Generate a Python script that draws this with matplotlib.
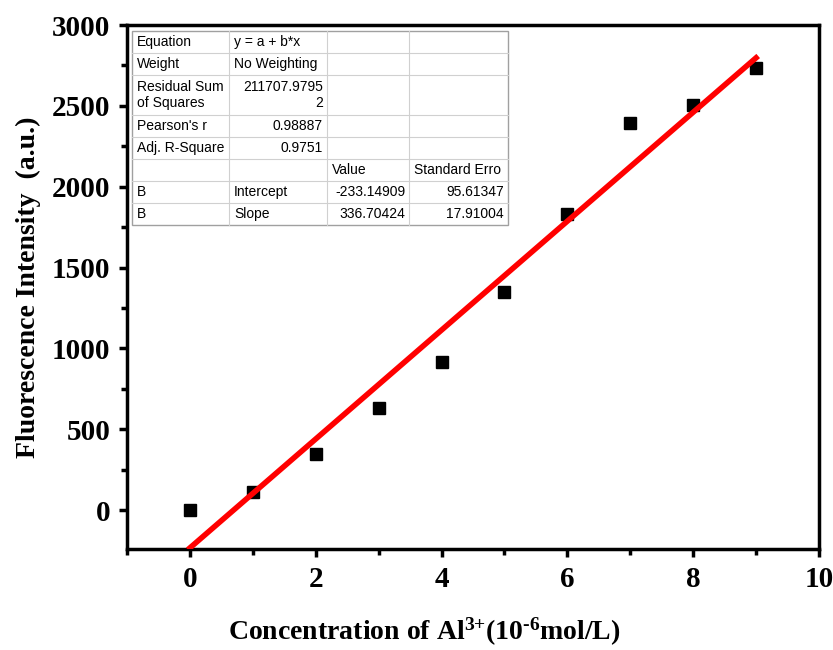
import numpy as np
import matplotlib
matplotlib.use("Agg")
from matplotlib import pyplot as plt
from matplotlib.ticker import MultipleLocator
from matplotlib.patches import Rectangle
from matplotlib.lines import Line2D

# duomenys
koncentracija = [0, 1, 2, 3, 4, 5, 6, 7, 8, 9]
intensyvumas = [0, 111, 346, 631, 915, 1348, 1830, 2393, 2505, 2734]
intercept = -233.14909
slope = 336.70424

lentele = [
    ["Equation", "y = a + b*x", "", ""],
    ["Weight", "No Weighting", "", ""],
    ["Residual Sum\nof Squares", "211707.9795\n2", "", ""],
    ["Pearson's r", "0.98887", "", ""],
    ["Adj. R-Square", "0.9751", "", ""],
    ["", "", "Value", "Standard Erro"],
    ["B", "Intercept", "-233.14909", "95.61347"],
    ["B", "Slope", "336.70424", "17.91004"],
]

plt.rcParams['mathtext.fontset'] = 'custom'
plt.rcParams['mathtext.rm'] = 'Liberation Serif:bold'
plt.rcParams['mathtext.bf'] = 'Liberation Serif:bold'
plt.rcParams['mathtext.default'] = 'bf'

W, H = 833, 650
fig = plt.figure(figsize=(W / 100, H / 100), dpi=100)
ax = fig.add_axes([127 / W, 1 - 549 / H, (819 - 127) / W, (549 - 25) / H])

ax.plot(koncentracija, intensyvumas, 's', color='black', markersize=8, zorder=3)
xf = np.array([koncentracija[0], koncentracija[-1]])
ax.plot(xf, intercept + slope * xf, color='red', linewidth=4, zorder=4)

ax.set_xlim(-1, 10)
ax.set_ylim(-240, 3000)
ax.xaxis.set_major_locator(MultipleLocator(2))
ax.xaxis.set_minor_locator(MultipleLocator(1))
ax.yaxis.set_major_locator(MultipleLocator(500))
ax.yaxis.set_minor_locator(MultipleLocator(250))
for s in ax.spines.values():
    s.set_linewidth(2.5)
ax.tick_params(which='major', direction='out', length=6, width=2.5, pad=6)
ax.tick_params(which='minor', direction='out', length=4, width=2.5)
for lab in ax.get_xticklabels() + ax.get_yticklabels():
    lab.set_fontfamily('Liberation Serif')
    lab.set_fontweight('bold')
    lab.set_fontsize(21)

ax.set_xlabel(r'Concentration of Al$^{3{+}}$(10$^{\text{-6}}$mol/L)', fontsize=20,
              fontfamily='Liberation Serif', fontweight='bold')
ax.xaxis.set_label_coords(0.43, -0.128)
ax.set_ylabel('Fluorescence Intensity  (a.u.)', fontsize=20,
              fontfamily='Liberation Serif', fontweight='bold', labelpad=8)

# lentele (pikseliais)
stulp = [132, 229, 327, 409, 508]
eil = [31, 53, 75, 115, 137, 159, 181, 203, 225]

def fx(px):
    return px / W

def fy(py):
    return 1 - py / H

fig.add_artist(Rectangle((fx(stulp[0]), fy(eil[-1])), fx(stulp[-1]) - fx(stulp[0]),
                         fy(eil[0]) - fy(eil[-1]), transform=fig.transFigure,
                         facecolor='white', edgecolor='#a0a0a0', linewidth=1, zorder=5))
for y in eil[1:-1]:
    fig.add_artist(Line2D([fx(stulp[0]), fx(stulp[-1])], [fy(y), fy(y)],
                          transform=fig.transFigure, color='#d0d0d0', linewidth=0.8, zorder=6))
for x in stulp[1:-1]:
    fig.add_artist(Line2D([fx(x), fx(x)], [fy(eil[0]), fy(eil[-1])],
                          transform=fig.transFigure, color='#d0d0d0', linewidth=0.8, zorder=6))

for i, row in enumerate(lentele):
    yc = (eil[i] + eil[i + 1]) / 2
    for j, txt in enumerate(row):
        if not txt:
            continue
        skaicius = txt[0].isdigit() or txt[0] == '-'
        if skaicius:
            xp, ha = stulp[j + 1] - 4, 'right'
        else:
            xp, ha = stulp[j] + 5, 'left'
        fig.text(fx(xp), fy(yc), txt, ha=ha, va='center', fontsize=10,
                 fontfamily='Liberation Sans', linespacing=1.25, zorder=7)

fig.savefig('out.png', dpi=100)
